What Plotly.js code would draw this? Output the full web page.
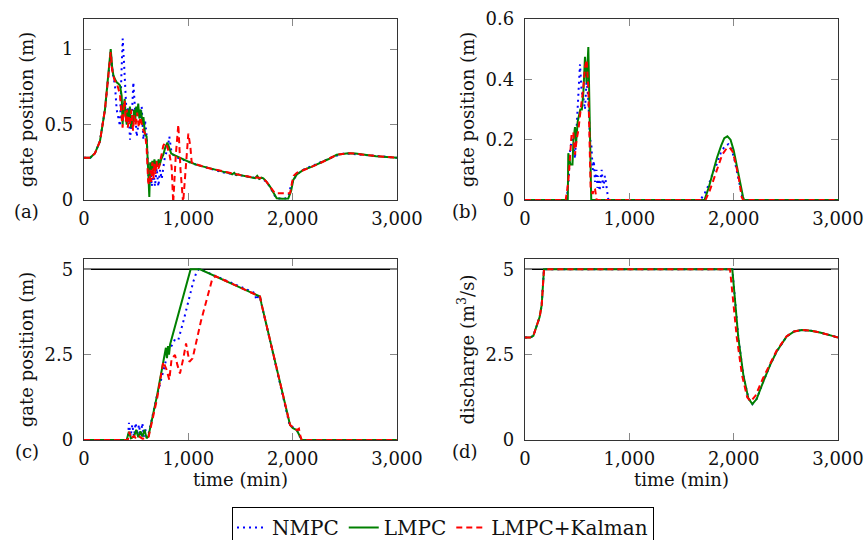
<!DOCTYPE html>
<html><head><meta charset="utf-8">
<script src="https://cdn.plot.ly/plotly-3.0.1.min.js"></script>
<style>html,body{margin:0;padding:0;background:#fff}#chart{width:865px;height:540px}</style>
</head><body><div id="chart"></div>
<script>
// ---------- data ----------
const seriesNames = ['NMPC', 'LMPC', 'LMPC+Kalman'];
const xTickVals = [0, 1000, 2000, 3000];
const xTickText = ['0', '1,000', '2,000', '3,000'];
const yTicksA = [0, 0.5, 1];
const yTicksB = [0, 0.2, 0.4, 0.6];
const yTicksCD = [0, 2.5, 5];
const gateLimit = 5;
const limitT = [0, 3000];

// (a)
const aNmpcT = [0,60,105,153,201,233,256,275,297,313,329,345,358,371,382,395,409,425,441,457,473,489,505,521,537,553,569,585,601,617,633,649,665,680,697,713,729,745,761,776,799,818,840,869,900,950,1000,1050,1100,1150,1200,1250,1300,1350,1400,1450,1500,1550,1600,1650,1700,1720,1750,1780,1810,1840,1870,1930,1960,1985,2005,2040,2100,2200,2300,2400,2500,2600,2700,2800,2900,3000];
const aNmpcY = [0.28,0.28,0.31,0.39,0.6,0.82,0.98,0.84,0.76,0.6,0.53,0.49,0.82,1.07,0.93,0.71,0.56,0.62,0.4,0.53,0.78,0.6,0.42,0.5,0.53,0.62,0.4,0.53,0.42,0.16,0.24,0.09,0.2,0.09,0.21,0.09,0.2,0.14,0.24,0.29,0.33,0.42,0.31,0.29,0.28,0.265,0.25,0.24,0.23,0.22,0.21,0.2,0.19,0.18,0.175,0.17,0.16,0.155,0.15,0.145,0.14,0.135,0.12,0.09,0.05,0.015,0.01,0.01,0.025,0.1,0.13,0.17,0.2,0.23,0.26,0.29,0.31,0.305,0.295,0.29,0.285,0.28];
const aLmpcT = [0,60,105,153,201,233,256,270,281,297,313,330,345,361,370,380,390,400,410,420,430,440,450,460,470,480,490,500,510,520,530,540,550,560,570,584,600,615,626,635,645,655,665,675,685,695,705,715,725,740,760,780,799,815,835,856,900,1000,1080,1150,1200,1250,1300,1350,1399,1420,1440,1460,1480,1500,1550,1600,1640,1660,1680,1700,1719,1750,1783,1815,1847,1900,1958,1985,2006,2040,2102,2180,2262,2340,2422,2533,2600,2677,2800,2900,3000];
const aLmpcY = [0.28,0.28,0.31,0.39,0.6,0.82,1.0,0.88,0.83,0.8,0.78,0.77,0.76,0.69,0.5,0.62,0.67,0.55,0.5,0.6,0.53,0.62,0.48,0.56,0.5,0.6,0.52,0.62,0.56,0.64,0.54,0.6,0.58,0.5,0.55,0.44,0.42,0.2,0.02,0.25,0.2,0.26,0.19,0.27,0.21,0.26,0.22,0.27,0.23,0.27,0.3,0.35,0.38,0.35,0.31,0.3,0.285,0.255,0.233,0.22,0.21,0.2,0.195,0.185,0.178,0.17,0.18,0.165,0.17,0.165,0.158,0.152,0.145,0.16,0.14,0.148,0.144,0.12,0.089,0.05,0.011,0.008,0.01,0.06,0.133,0.17,0.2,0.22,0.244,0.27,0.3,0.31,0.308,0.3,0.29,0.285,0.28];
const aKalT = [0,60,105,153,201,233,256,270,290,320,345,360,370,380,390,400,410,420,430,440,455,470,480,495,510,525,540,555,570,585,600,615,625,635,645,655,665,675,685,695,705,720,740,760,780,800,820,840,855,880,904,925,950,975,1000,1020,1032,1060,1100,1150,1200,1300,1400,1500,1600,1700,1719,1750,1783,1810,1831,1900,1975,1995,2010,2040,2102,2180,2262,2340,2422,2533,2600,2677,2800,2900,3000];
const aKalY = [0.28,0.28,0.31,0.39,0.6,0.82,0.98,0.86,0.8,0.76,0.7,0.55,0.48,0.62,0.66,0.52,0.6,0.48,0.55,0.5,0.6,0.46,0.56,0.5,0.58,0.48,0.55,0.5,0.46,0.44,0.35,0.12,0.1,0.2,0.12,0.25,0.14,0.24,0.17,0.26,0.2,0.22,0.3,0.36,0.38,0.35,0.3,0.22,-0.02,0.3,0.5,0.2,-0.02,0.2,0.44,0.35,0.25,0.24,0.23,0.22,0.21,0.195,0.178,0.165,0.152,0.145,0.144,0.12,0.09,0.06,0.044,0.044,0.044,0.12,0.16,0.18,0.2,0.22,0.244,0.27,0.3,0.31,0.308,0.3,0.29,0.285,0.28];

// (b)
const bNmpcT = [0,400,420,431,447,463,479,495,511,527,543,559,575,591,607,623,635,649,660,671,685,695,703,715,735,750,767,785,799,1680,1720,1760,1800,1840,1880,1920,1950,1980,2010,2040,2070,2090,3000];
const bNmpcY = [0,0,0.08,0.16,0.2,0.2,0.137,0.25,0.33,0.45,0.36,0.34,0.3,0.4,0.33,0.2,0.19,0.1,0.13,0.06,0.1,0.04,0.08,0.03,0.1,0.04,0.08,0.03,0,0,0.02,0.05,0.09,0.12,0.16,0.18,0.185,0.17,0.13,0.08,0.03,0,0];
const bLmpcT = [0,410,415,425,435,455,465,479,490,505,515,530,545,560,575,591,607,620,628,635,1720,1760,1800,1840,1880,1910,1940,1970,2000,2030,2060,2090,2100,3000];
const bLmpcY = [0,0,0.155,0.14,0.118,0.118,0.2,0.242,0.19,0.26,0.275,0.3,0.3,0.36,0.475,0.387,0.507,0.2,0.03,0,0,0.04,0.09,0.14,0.18,0.205,0.211,0.2,0.165,0.11,0.055,0.01,0,0];
const bKalT = [0,390,415,447,463,479,495,511,527,543,559,575,591,607,618,629,649,660,671,687,1730,1770,1810,1850,1890,1930,1960,1990,2020,2050,2077,2090,3000];
const bKalY = [0,0,0.06,0.22,0.225,0.15,0.2,0.23,0.28,0.32,0.373,0.44,0.465,0.37,0.18,0.04,0.02,0.04,0.036,0,0,0.03,0.07,0.11,0.15,0.17,0.175,0.16,0.12,0.07,0.01,0,0];

// (c)
const cNmpcT = [0,420,431,447,463,479,495,511,527,543,559,575,591,620,700,776,800,824,850,872,904,952,1000,1048,1080,1100,1112,1640,1650,1670,1687,1700,1970,2039,2087,3000];
const cNmpcY = [0,0,0.5,0.1,0.45,0.1,0.5,0.15,0.45,0.1,0.5,0.1,0.3,0.2,1.3,2.2,2.5,2.69,2.8,2.95,2.93,3.47,4.05,4.64,4.93,5.0,5.0,4.3,4.1,4.2,4.2,4.0,0.45,0.29,0,0];
const cLmpcT = [0,409,430,450,480,500,520,540,560,580,600,617,700,776,785,795,805,815,825,1022,1112,1687,1700,1975,2000,2039,2087,3000];
const cLmpcY = [0,0,0.24,0.05,0.1,0.3,0.08,0.25,0.1,0.3,0.05,0.1,1.3,2.49,2.7,2.4,2.75,2.5,2.8,5.0,5.0,4.2,4.0,0.44,0.35,0.29,0,0];
const cKalT = [0,420,435,450,480,500,530,560,590,620,700,760,790,818,840,872,895,920,952,978,1010,1041,1120,1210,1227,1259,1687,1700,1975,2039,2060,2075,2087,3000];
const cKalY = [0,0,0.24,0.05,0.12,0.03,0.1,0.04,0.05,0.1,1.2,2.29,2.07,1.76,2.39,2.49,2.2,1.95,2.39,2.83,2.29,2.39,3.47,4.44,4.69,4.8,4.2,4.0,0.44,0.29,0.33,0.1,0,0];

// (d)
const dNmpcT = [0,50,80,112,140,160,175,182,1987,2045,2093,2141,2179,2220,2284,2350,2412,2508,2580,2652,2740,2827,2920,3000];
const dNmpcY = [3.0,3.0,3.05,3.32,3.6,3.95,4.5,5.0,5.0,2.98,1.9,1.22,1.05,1.2,1.71,2.2,2.59,3.03,3.18,3.22,3.2,3.15,3.07,3.0];
const dLmpcT = [0,50,80,112,140,160,175,182,1987,2045,2093,2141,2179,2220,2284,2350,2412,2508,2580,2652,2740,2827,2920,3000];
const dLmpcY = [3.0,3.0,3.05,3.32,3.6,3.95,4.5,5.0,5.0,2.98,1.9,1.22,1.05,1.2,1.71,2.2,2.59,3.03,3.18,3.22,3.2,3.15,3.07,3.0];
const dKalT = [0,50,80,112,140,160,175,182,1965,2030,2080,2130,2165,2210,2280,2350,2412,2508,2580,2652,2740,2827,2920,3000];
const dKalY = [3.0,3.0,3.05,3.32,3.6,3.95,4.5,5.0,5.0,3.0,1.9,1.25,1.13,1.3,1.8,2.25,2.62,3.04,3.18,3.22,3.2,3.15,3.07,3.0];

// ---------- styles ----------
const FONT = 'DejaVu Serif';
const FS = 18;
const styles = [
  {color: 'rgb(0,0,255)', dash: '2px,4px', width: 2},
  {color: 'rgb(0,128,0)', dash: 'solid', width: 2},
  {color: 'rgb(255,0,0)', dash: '6px,4px', width: 2}
];
const panels = [
  {xa: 'x', ya: 'y', data: [[aNmpcT, aNmpcY], [aLmpcT, aLmpcY], [aKalT, aKalY]]},
  {xa: 'x2', ya: 'y2', data: [[bNmpcT, bNmpcY], [bLmpcT, bLmpcY], [bKalT, bKalY]]},
  {xa: 'x3', ya: 'y3', data: [[cNmpcT, cNmpcY], [cLmpcT, cLmpcY], [cKalT, cKalY]], limit: true},
  {xa: 'x4', ya: 'y4', data: [[dNmpcT, dNmpcY], [dLmpcT, dLmpcY], [dKalT, dKalY]], limit: true}
];
const traces = [];
panels.forEach((p, pi) => {
  if (p.limit) {
    traces.push({x: limitT, y: [gateLimit, gateLimit], xaxis: p.xa, yaxis: p.ya, mode: 'lines',
      line: {color: '#000', width: 1.3}, showlegend: false, hoverinfo: 'skip'});
  }
  p.data.forEach((d, si) => {
    traces.push({x: d[0], y: d[1], xaxis: p.xa, yaxis: p.ya, mode: 'lines', name: seriesNames[si],
      line: Object.assign({}, styles[si]), showlegend: pi === 0, legendgroup: seriesNames[si]});
  });
});

function xax(domain, anchor, title) {
  const o = {domain: domain, anchor: anchor, range: [0, 3000], tickvals: xTickVals, ticktext: xTickText,
    ticks: 'inside', ticklen: 7, tickcolor: '#888', tickwidth: 1, showline: true, linecolor: '#333', linewidth: 1.3,
    mirror: 'ticks', showgrid: false, zeroline: false, tickfont: {family: FONT, size: FS, color: '#111'},
    ticklabelstandoff: 2, automargin: false};
  if (title) o.title = {text: title, font: {family: FONT, size: FS, color: '#111'}, standoff: 4};
  return o;
}
function yax(domain, anchor, range, ticks, title) {
  return {domain: domain, anchor: anchor, range: range, tickvals: ticks,
    ticks: 'inside', ticklen: 7, tickcolor: '#888', tickwidth: 1, showline: true, linecolor: '#333', linewidth: 1.3,
    mirror: 'ticks', showgrid: false, zeroline: false, tickfont: {family: FONT, size: FS, color: '#111'},
    ticklabelstandoff: 6, automargin: false,
    title: {text: title, font: {family: FONT, size: FS, color: '#111'}, standoff: 6}};
}
const W = 865, H = 540;
const dxL = [84 / W, 397 / W], dxR = [525 / W, 838 / W];
const dyT = [1 - 200 / H, 1 - 19 / H], dyB = [1 - 440 / H, 1 - 259 / H];

const layout = {
  width: W, height: H, margin: {l: 0, r: 0, t: 0, b: 0, autoexpand: false},
  paper_bgcolor: '#fff', plot_bgcolor: '#fff',
  font: {family: FONT, size: FS, color: '#111'},
  xaxis: xax(dxL, 'y'), yaxis: yax(dyT, 'x', [0, 1.2], yTicksA, 'gate position (m)'),
  xaxis2: xax(dxR, 'y2'), yaxis2: yax(dyT, 'x2', [0, 0.6], yTicksB, 'gate position (m)'),
  xaxis3: xax(dxL, 'y3', 'time (min)'), yaxis3: yax(dyB, 'x3', [0, 5.3], yTicksCD, 'gate position (m)'),
  xaxis4: xax(dxR, 'y4', 'time (min)'), yaxis4: yax(dyB, 'x4', [0, 5.3], yTicksCD, 'discharge (m<sup>3</sup>/s)'),
  showlegend: true,
  legend: {orientation: 'h', x: 443 / W, xanchor: 'center', y: 1 - 507 / H, yanchor: 'top',
    bordercolor: '#000', borderwidth: 1, bgcolor: '#fff', font: {family: FONT, size: 20, color: '#111'},
    tracegroupgap: 0, itemwidth: 30},
  annotations: [
    {text: '(a)', x: 26.5 / W, y: 1 - 211.5 / H},
    {text: '(b)', x: 465 / W, y: 1 - 211.5 / H},
    {text: '(c)', x: 26.5 / W, y: 1 - 451.5 / H},
    {text: '(d)', x: 465 / W, y: 1 - 451.5 / H}
  ].map(a => Object.assign(a, {xref: 'paper', yref: 'paper', showarrow: false, xanchor: 'center', yanchor: 'middle',
    font: {family: FONT, size: FS, color: '#111'}}))
};
Plotly.newPlot('chart', traces, layout, {displayModeBar: false, staticPlot: true});
</script>
</body></html>
